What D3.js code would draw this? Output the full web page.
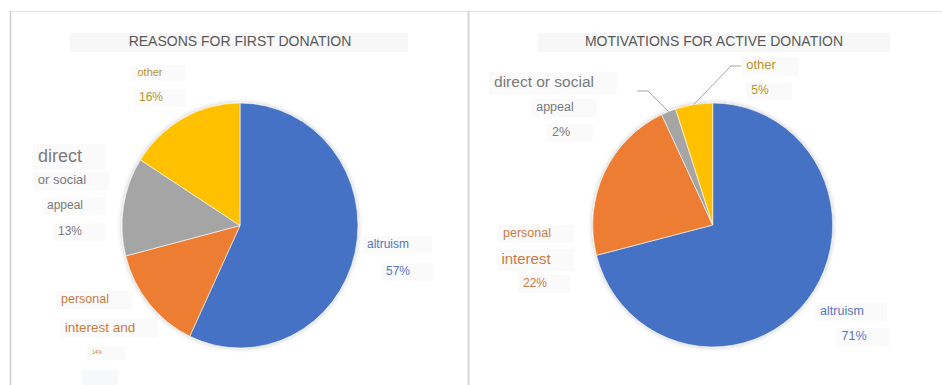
<!DOCTYPE html>
<html>
<head>
<meta charset="utf-8">
<script src="https://cdn.jsdelivr.net/npm/d3@7"></script>
<style>
  body { margin: 0; background: #fff; }
  svg { display: block; font-family: "Liberation Sans", Arial, sans-serif; }
</style>
</head>
<body>
<svg id="chart" width="942" height="385"></svg>
<script>
// Donation motive shares (percent), slices run clockwise from 12 o'clock
const categories = ["altruism", "personal interest", "direct or social appeal", "other"];
const firstDonation = [57, 14, 13, 16];
const activeDonation = [71, 22, 2, 5];
const sliceColors = ["#4472C4", "#ED7D31", "#A5A5A5", "#FFC000"];
const labelColors = ["#5677BE", "#C97A43", "#7B7B7B", "#B7942C"];
const chartTitles = ["REASONS FOR FIRST DONATION", "MOTIVATIONS FOR ACTIVE DONATION"];
const firstLabelLines = [["altruism"], ["personal", "interest and"], ["direct", "or social", "appeal"], ["other"]];
const activeLabelLines = [["altruism"], ["personal", "interest"], ["direct or social", "appeal"], ["other"]];

const svg = d3.select("#chart");

// panel frames
svg.append("line").attr("x1", 10).attr("x2", 942).attr("y1", 11.5).attr("y2", 11.5)
  .attr("stroke", "#e2e2e2").attr("stroke-width", 1.2);
svg.append("line").attr("x1", 10.5).attr("x2", 10.5).attr("y1", 11).attr("y2", 385)
  .attr("stroke", "#cfcfcf").attr("stroke-width", 1.6);
svg.append("line").attr("x1", 468.5).attr("x2", 468.5).attr("y1", 11).attr("y2", 385)
  .attr("stroke", "#d6d6d6").attr("stroke-width", 2);

// soft shadow under the pies
const defs = svg.append("defs");
const f = defs.append("filter").attr("id", "pieShadow")
  .attr("x", "-20%").attr("y", "-20%").attr("width", "140%").attr("height", "140%");
f.append("feGaussianBlur").attr("in", "SourceAlpha").attr("stdDeviation", 2.5).attr("result", "b");
f.append("feComponentTransfer").attr("in", "b").attr("result", "s")
  .append("feFuncA").attr("type", "linear").attr("slope", 0.25);
const fm = f.append("feMerge");
fm.append("feMergeNode").attr("in", "s");
fm.append("feMergeNode").attr("in", "SourceGraphic");

const charts = [
  {
    values: firstDonation, lines: firstLabelLines, title: chartTitles[0],
    cx: 240, cy: 225.5, rx: 118, ry: 122.5,
    titleX: 240, titleY: 42, titleBox: [70, 408],
    labels: [
      { lines: [{ x: 388, y: 245, s: 12 }], pct: { x: 398, y: 272, s: 12 } },
      { lines: [{ x: 85, y: 300, s: 12.5 }, { x: 100, y: 328, s: 13.5 }], pct: { x: 97, y: 353, s: 5 } },
      { lines: [{ x: 60, y: 157, s: 18 }, { x: 62, y: 181, s: 13 }, { x: 65, y: 206, s: 12 }], pct: { x: 70, y: 232, s: 12 } },
      { lines: [{ x: 150, y: 73, s: 11 }], pct: { x: 151, y: 98, s: 12 } }
    ],
    leaders: []
  },
  {
    values: activeDonation, lines: activeLabelLines, title: chartTitles[1],
    cx: 712.7, cy: 225, rx: 120, ry: 122,
    titleX: 714, titleY: 42, titleBox: [538, 890],
    labels: [
      { lines: [{ x: 842, y: 312, s: 12.5 }], pct: { x: 854, y: 337, s: 12.5 } },
      { lines: [{ x: 527, y: 234, s: 12.5 }, { x: 526, y: 260, s: 15 }], pct: { x: 535, y: 284, s: 12 } },
      { lines: [{ x: 544, y: 83, s: 15.5 }, { x: 555, y: 108, s: 12.5 }], pct: { x: 561, y: 133, s: 12.5 } },
      { lines: [{ x: 761, y: 66, s: 13 }], pct: { x: 760, y: 91, s: 12 } }
    ],
    // leader lines: slice index plus the elbow and start near the label
    leaders: [
      { i: 2, start: [637, 91], elbow: [648, 91] },
      { i: 3, start: [741, 66], elbow: [731, 66] }
    ]
  }
];

const pie = d3.pie().sort(null).value(d => d);

charts.forEach(c => {
  const g = svg.append("g");

  // title with its faint backing box
  g.append("rect").attr("x", c.titleBox[0]).attr("y", 33)
    .attr("width", c.titleBox[1] - c.titleBox[0]).attr("height", 19)
    .attr("fill", "#f7f7f7");
  g.append("text").attr("x", c.titleX).attr("y", c.titleY)
    .attr("text-anchor", "middle").attr("dominant-baseline", "middle")
    .attr("font-size", 14).attr("fill", "#595959").text(c.title);

  // pie
  const arcs = pie(c.values);
  const arc = d3.arc().innerRadius(0).outerRadius(c.ry);
  const pg = g.append("g")
    .attr("transform", `translate(${c.cx},${c.cy}) scale(${c.rx / c.ry},1)`)
    .attr("filter", "url(#pieShadow)");
  pg.selectAll("path").data(arcs).join("path")
    .attr("d", arc)
    .attr("fill", (d, i) => sliceColors[i])
    .attr("stroke", "#fff").attr("stroke-width", 0.6);

  // leader lines to the thin slices
  c.leaders.forEach(L => {
    const a = arcs[L.i];
    const mid = (a.startAngle + a.endAngle) / 2;
    const ex = c.cx + c.rx * Math.sin(mid);
    const ey = c.cy - c.ry * Math.cos(mid);
    g.append("polyline")
      .attr("points", [L.start, L.elbow, [ex, ey]].map(p => p.join(",")).join(" "))
      .attr("fill", "none").attr("stroke", "#a6a6a6").attr("stroke-width", 1);
  });

  // labels: category lines then the percentage
  c.labels.forEach((lab, i) => {
    const items = lab.lines.map((p, k) => ({ p, t: c.lines[i][k] }));
    items.push({ p: lab.pct, t: c.values[i] + "%" });
    items.forEach(it => {
      const bg = g.append("rect").attr("fill", "#fafafa");
      const t = g.append("text").attr("x", it.p.x).attr("y", it.p.y)
        .attr("text-anchor", "middle").attr("dominant-baseline", "middle")
        .attr("font-size", it.p.s).attr("fill", labelColors[i]).text(it.t);
      const w = t.node().getComputedTextLength();
      const h = Math.max(it.p.s * 1.45, 14);
      bg.attr("x", it.p.x - w / 2 - 5).attr("y", it.p.y - h / 2)
        .attr("width", w + 28).attr("height", h);
    });
  });
});

// faint empty label box trailing the clipped first-donation label
svg.append("rect").attr("x", 82).attr("y", 370).attr("width", 36).attr("height", 15).attr("fill", "#f7f8fa");
</script>
</body>
</html>
